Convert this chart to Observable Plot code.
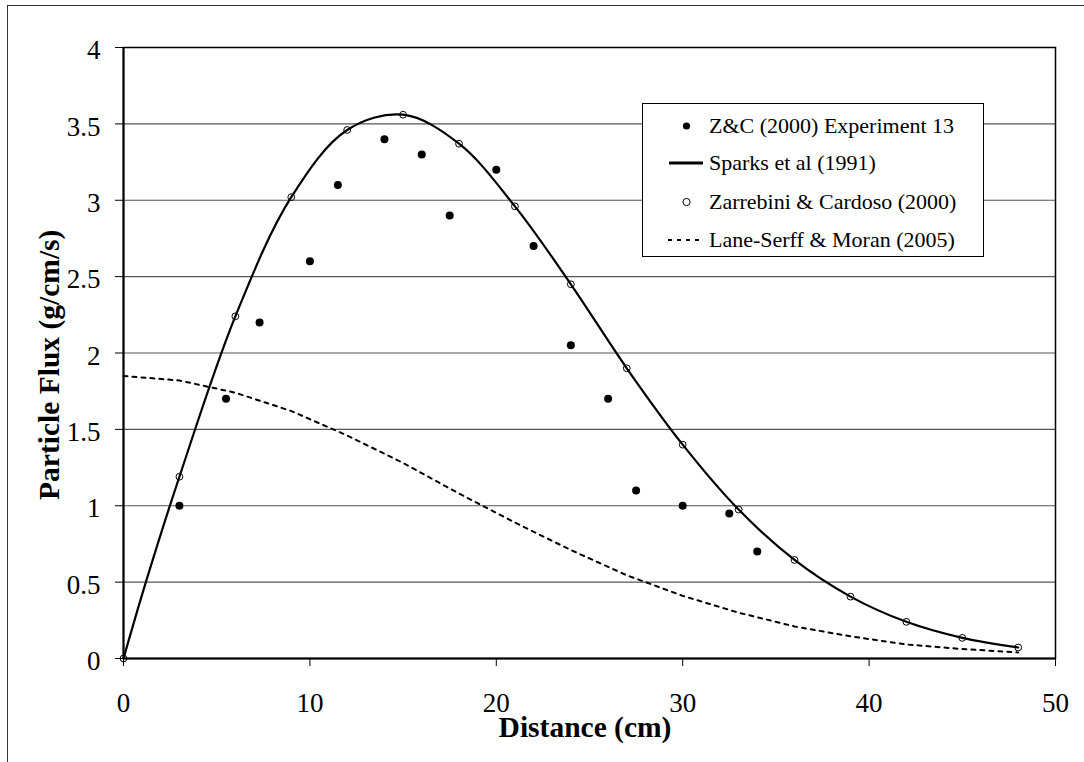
<!DOCTYPE html>
<html>
<head>
<meta charset="utf-8">
<script src="https://cdn.jsdelivr.net/npm/d3@7"></script>
<script src="https://cdn.jsdelivr.net/npm/@observablehq/plot@0.6"></script>
<style>
  html, body { margin: 0; padding: 0; background: white; }
  #wrap { position: relative; width: 1084px; height: 762px; overflow: hidden; background: white;
          font-family: "Liberation Serif", "Times New Roman", serif; color: black; }
  #outer { position: absolute; left: 7px; top: 5px; width: 1300px; height: 1000px; border: 1px solid #333; box-sizing: border-box; }
  #chart { position: absolute; left: 0; top: 0; }
  #chart svg text { font-family: "Liberation Serif", "Times New Roman", serif !important; }
  .title { position: absolute; font-family: "Liberation Serif", "Times New Roman", serif; font-weight: bold; font-size: 29.5px; width: 400px; text-align: center; white-space: nowrap; }
  #xtitle { left: 385px; top: 718px; line-height: 18px; height: 18px; }
  #ytitle { left: -150px; top: 350px; line-height: 29.5px; height: 29.5px; transform: rotate(-90deg); transform-origin: 200px 14.75px; }
  #legend { position: absolute; left: 642px; top: 103px; width: 342px; height: 154px; border: 1px solid #000; box-sizing: border-box; background: white; }
  .row { position: absolute; left: 0; height: 38px; width: 340px; }
  .row svg { position: absolute; left: 20px; top: 0; }
  .row span { position: absolute; left: 66px; top: 0; font-family: "Liberation Serif", "Times New Roman", serif; font-size: 22px; line-height: 38px; white-space: nowrap; }
</style>
</head>
<body>
<div id="wrap">
  <div id="outer"></div>
  <div id="chart"></div>
  <div id="legend"></div>
  <div class="title" id="xtitle"></div>
  <div class="title" id="ytitle"></div>
</div>
<script>
// ---- Data ----
const expX = [3, 5.5, 7.3, 10, 11.5, 14, 16, 17.5, 20, 22, 24, 26, 27.5, 30, 32.5, 34];
const expY = [1.0, 1.7, 2.2, 2.6, 3.1, 3.4, 3.3, 2.9, 3.2, 2.7, 2.05, 1.7, 1.1, 1.0, 0.95, 0.7];

const sparksX = [0, 1.2, 3, 6, 9, 12, 15, 18, 21, 24, 27, 30, 33, 36, 39, 42, 45, 48];
const sparksY = [0, 0.5, 1.19, 2.24, 3.02, 3.46, 3.56, 3.37, 2.96, 2.45, 1.90, 1.40, 0.975, 0.645, 0.405, 0.24, 0.135, 0.072];

const zcX = [0, 3, 6, 9, 12, 15, 18, 21, 24, 27, 30, 33, 36, 39, 42, 45, 48];
const zcY = [0, 1.19, 2.24, 3.02, 3.46, 3.56, 3.37, 2.96, 2.45, 1.90, 1.40, 0.975, 0.645, 0.405, 0.24, 0.135, 0.072];

const laneX = [0, 3, 6, 9, 12, 15, 18, 21, 24, 27, 30, 33, 36, 39, 42, 45, 48];
const laneY = [1.85, 1.82, 1.74, 1.62, 1.46, 1.28, 1.08, 0.89, 0.71, 0.545, 0.41, 0.30, 0.21, 0.145, 0.092, 0.062, 0.04];

const xTicks = [0, 10, 20, 30, 40, 50];
const yTicks = [0, 0.5, 1, 1.5, 2, 2.5, 3, 3.5, 4];
const gridY = [0.5, 1, 1.5, 2, 2.5, 3, 3.5];

const seriesNames = ["Z&C (2000) Experiment 13", "Sparks et al (1991)", "Zarrebini & Cardoso (2000)", "Lane-Serff & Moran (2005)"];
const xTitle = "Distance (cm)";
const yTitle = "Particle Flux (g/cm/s)";

// ---- Build tables ----
const toRows = (xs, ys) => xs.map((x, i) => ({x, y: ys[i]}));
const exp = toRows(expX, expY);
const sparks = toRows(sparksX, sparksY);
const zc = toRows(zcX, zcY);
const lane = toRows(laneX, laneY);

const serif = "'Liberation Serif', 'Times New Roman', serif";

const chart = Plot.plot({
  width: 1084,
  height: 762,
  marginLeft: 123,
  marginRight: 29,
  marginTop: 47,
  marginBottom: 104,
  x: {domain: [0, 50]},
  y: {domain: [0, 4]},
  style: {fontFamily: serif, fontSize: "27px", color: "black", background: "transparent", overflow: "visible"},
  marks: [
    Plot.ruleY(gridY, {stroke: "#555", strokeWidth: 1.2}),
    Plot.line(lane, {x: "x", y: "y", stroke: "black", strokeWidth: 2, strokeDasharray: "4,5"}),
    Plot.line(sparks, {x: "x", y: "y", curve: "catmull-rom", stroke: "black", strokeWidth: 2.2}),
    Plot.dot(zc, {x: "x", y: "y", r: 3.4, stroke: "black", fill: "none", strokeWidth: 1}),
    Plot.dot(exp, {x: "x", y: "y", r: 4, fill: "black", stroke: "none"}),
    Plot.frame({stroke: "black", strokeWidth: 1.5}),
    Plot.ruleX([0], {stroke: "black", strokeWidth: 2}),
    Plot.ruleY([0], {stroke: "black", strokeWidth: 2}),
    Plot.axisX({ticks: xTicks, tickSize: 8, tickPadding: 26, fontSize: 27, fontFamily: serif, tickFormat: d => String(d), label: null, stroke: "black"}),
    Plot.axisY({ticks: yTicks, tickSize: 8, tickFormat: () => "", label: null, stroke: "black"}),
    Plot.axisY({ticks: yTicks, tickSize: 0, tickPadding: 23, fontSize: 27, fontFamily: serif, tickFormat: d => String(d), label: null, dy: 3})
  ]
});
document.getElementById("chart").appendChild(chart);

document.getElementById("xtitle").textContent = xTitle;
document.getElementById("ytitle").textContent = yTitle;

// ---- Legend ----
const legend = document.getElementById("legend");
const rowTops = [3, 40, 79, 117];
const markers = [
  '<circle cx="23.5" cy="19" r="3.6" fill="black"/>',
  '<line x1="6" x2="40" y1="19" y2="19" stroke="black" stroke-width="3"/>',
  '<circle cx="23.5" cy="19" r="3.6" fill="none" stroke="black" stroke-width="1"/>',
  '<line x1="5" x2="40" y1="19" y2="19" stroke="black" stroke-width="2" stroke-dasharray="4,5"/>'
];
seriesNames.forEach((name, i) => {
  const row = document.createElement("div");
  row.className = "row";
  row.style.top = rowTops[i] + "px";
  row.innerHTML = '<svg width="44" height="38">' + markers[i] + '</svg>';
  const s = document.createElement("span");
  s.textContent = name;
  row.appendChild(s);
  legend.appendChild(row);
});
</script>
</body>
</html>
